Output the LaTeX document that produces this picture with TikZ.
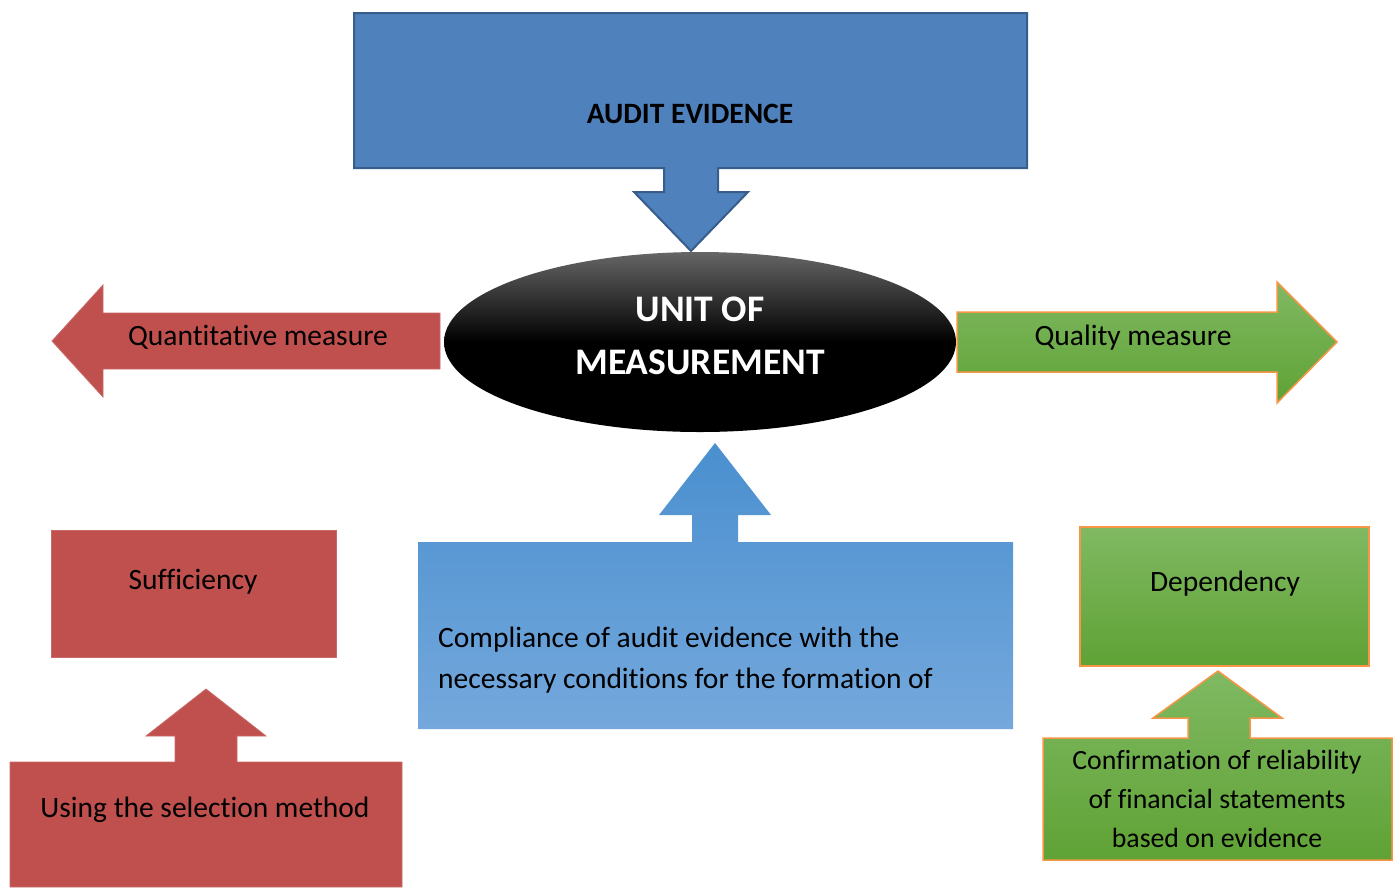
\documentclass[tikz,border=0pt]{standalone}
\usepackage{fontspec}
\setmainfont{Carlito}[Ligatures={NoCommon}]
\usetikzlibrary{shapes.geometric}
\definecolor{topblue}{HTML}{4F81BD}
\definecolor{topblueline}{HTML}{385D8A}
\definecolor{redf}{HTML}{C0504D}
\definecolor{greentop}{HTML}{80B962}
\definecolor{greenbot}{HTML}{5FA235}
\definecolor{orangeline}{HTML}{F79646}
\definecolor{bluetop}{HTML}{4A8FCF}
\definecolor{bluebot}{HTML}{74A8DC}
\definecolor{ellgray}{HTML}{666666}
\tikzset{
  redshape/.style={fill=redf, draw=redf!85!white, line width=0.8pt},
  greenshape/.style={top color=greentop, bottom color=greenbot, draw=orangeline, line width=1.5pt},
  txt/.style={font=\fontsize{29.5}{40}\selectfont, text=black, inner sep=0pt},
  boldtxt/.style={font=\fontsize{29.5}{40}\selectfont\bfseries, text=black, inner sep=0pt},
}
\begin{document}
\begin{tikzpicture}[x=1pt,y=-1pt]
\useasboundingbox (0,0) rectangle (1395,887);
% top: audit evidence with down arrow callout
\draw[fill=topblue, draw=topblueline, line width=2pt]
  (354,13) -- (1027,13) -- (1027,168) -- (718,168) -- (718,192) -- (748,192)
  -- (691,251) -- (634,192) -- (664,192) -- (664,168) -- (354,168) -- cycle;
\node[boldtxt] (audit) at (690,114) {AUDIT EVIDENCE};
% ellipse
\shade[top color=ellgray, bottom color=black, middle color=black] (700,342) ellipse [x radius=256, y radius=90];
\node[font=\fontsize{37.5}{53}\selectfont\bfseries, text=white, align=center, inner sep=0pt] (unit) at (700,336) {UNIT OF\\MEASUREMENT};
% left arrow
\draw[redshape] (440,313) -- (103,313) -- (103,285) -- (52,341) -- (103,397) -- (103,369) -- (440,369) -- cycle;
\node[txt] (quant) at (258,337) {Quantitative measure};
% right arrow
\draw[greenshape] (957,312) -- (1277,312) -- (1277,282) -- (1337,342) -- (1277,403) -- (1277,372) -- (957,372) -- cycle;
\node[txt] (qual) at (1133,338) {Quality measure};
% sufficiency
\draw[redshape] (51,530) rectangle (336,657);
\node[txt] (suff) at (193,582) {Sufficiency};
% selection method with up arrow
\draw[redshape] (10,762) -- (175,762) -- (175,736) -- (146,736) -- (206,689) -- (266,736) -- (237,736) -- (237,762)
  -- (402,762) -- (402,887) -- (10,887) -- cycle;
\node[txt] (sel) at (205,810) {Using the selection method};
% middle blue with up arrow
\shade[top color=bluetop, bottom color=bluebot] (418,542) -- (692,542) -- (692,515) -- (659,515) -- (715,443) -- (771,515)
  -- (738,515) -- (738,542) -- (1013,542) -- (1013,729) -- (418,729) -- cycle;
\node[font=\fontsize{29.5}{41}\selectfont, text=black, align=left, anchor=west, inner sep=0pt] (comp) at (438,660)
  {Compliance of audit evidence with the\\necessary conditions for the formation of};
% dependency
\draw[greenshape] (1080,527) rectangle (1369,666);
\node[txt] (dep) at (1225,584) {Dependency};
% confirmation with up arrow
\draw[greenshape] (1043,738) -- (1188,738) -- (1188,718) -- (1153,718) -- (1218,671) -- (1282,718) -- (1250,718) -- (1250,738)
  -- (1392,738) -- (1392,860) -- (1043,860) -- cycle;
\node[font=\fontsize{27.8}{39}\selectfont, text=black, align=center, inner sep=0pt] (conf) at (1217,799)
  {Confirmation of reliability\\of financial statements\\based on evidence};
\end{tikzpicture}
\end{document}
